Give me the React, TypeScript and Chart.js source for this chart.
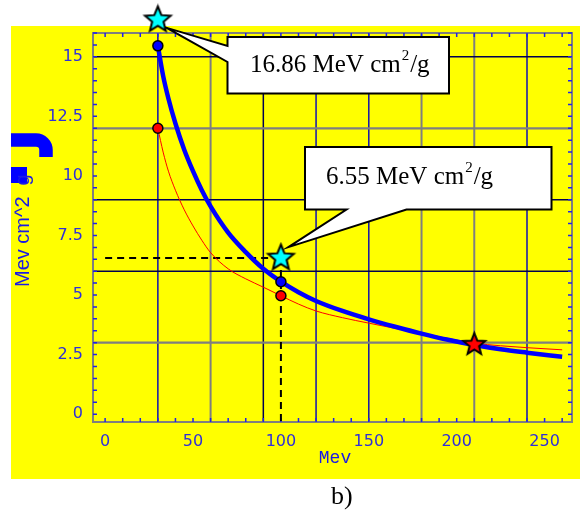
import React, { useEffect, useRef } from 'react';
import { Chart, registerables } from 'chart.js';

Chart.register(...registerables);

// ---------- data ----------
const X_RANGE = [-6.9, 265.6];
const Y_RANGE = [-0.33, 16.0];

const xTicks = [0, 50, 100, 150, 200, 250];
const xTickLabels = ['0', '50', '100', '150', '200', '250'];
const yTicks = [0, 2.5, 5, 7.5, 10, 12.5, 15];
const yTickLabels = ['0', '2.5', '5', '7.5', '10', '12.5', '15'];

const gridX = [30, 60, 90, 120, 150, 180, 210, 240];
const gridY = [3, 6, 9, 12, 15];

const blueX = [30, 33, 36, 40, 45, 50, 55, 60, 70, 80, 90, 100, 110, 120, 135, 150, 165, 180, 195, 210, 225, 240, 260];
const blueY = [15.46, 14.2, 13.25, 12.2, 11.1, 10.2, 9.4, 8.72, 7.62, 6.8, 6.1, 5.56, 5.12, 4.75, 4.33, 3.98, 3.67, 3.38, 3.12, 2.9, 2.72, 2.58, 2.41];

const redX = [30, 33, 36, 40, 45, 50, 55, 60, 70, 80, 90, 100, 110, 120, 135, 150, 165, 180, 195, 210, 225, 240, 260];
const redY = [12, 11.0, 10.2, 9.4, 8.58, 7.9, 7.3, 6.78, 6.1, 5.68, 5.33, 4.97, 4.62, 4.33, 4.05, 3.82, 3.6, 3.4, 3.18, 2.98, 2.87, 2.79, 2.7];

const dotX = [30, 100];
const blueDotY = [15.46, 5.56];
const redDotY = [12, 4.97];

const starX = [30, 100];
const starY = [16.55, 6.55];
const starValues = ['16.86', '6.55'];

const redStarX = [210];
const redStarY = [2.92];

const guideX = [0, 100];
const guideY = 6.55;
const guideBottom = -0.5;

const xTitle = 'Mev';
const yTitle = 'Mev cm^2  g';
const panelLabel = 'b)';

// ---------- helpers ----------
const pts = (xs: number[], ys: number[]) => xs.map((x, i) => ({ x, y: ys[i] }));

function makeStar(fill: string, R: number, r: number, lw: number) {
  const size = Math.ceil(2 * R + lw * 2 + 2);
  const c = document.createElement('canvas');
  c.width = size;
  c.height = size;
  const ctx = c.getContext('2d')!;
  const cx = size / 2, cy = size / 2;
  ctx.beginPath();
  for (let i = 0; i < 10; i++) {
    const rad = i % 2 === 0 ? R : r;
    const a = -Math.PI / 2 + (i * Math.PI) / 5;
    const px = cx + rad * Math.cos(a), py = cy + rad * Math.sin(a);
    if (i === 0) ctx.moveTo(px, py); else ctx.lineTo(px, py);
  }
  ctx.closePath();
  ctx.fillStyle = fill;
  ctx.fill();
  ctx.lineWidth = lw;
  ctx.strokeStyle = '#000';
  ctx.lineJoin = 'miter';
  ctx.stroke();
  return c;
}

const BLUE_TEXT = '#3030d8';
const TICK_COLOR = '#2020e8';
const GRID_GRAY = '#7f7f7f';
const GRID_NAVY = '#000050';
const GRID_BLUE = '#1010b0';
const gridXColors = [GRID_BLUE, GRID_GRAY, GRID_NAVY, GRID_BLUE, GRID_BLUE, GRID_GRAY, GRID_GRAY, GRID_BLUE];
const gridYColors = [GRID_GRAY, GRID_NAVY, GRID_NAVY, GRID_GRAY, GRID_NAVY];

function drawCalloutText(ctx: CanvasRenderingContext2D, value: string, tx: number, ty: number) {
  ctx.fillStyle = '#000';
  ctx.textBaseline = 'alphabetic';
  ctx.textAlign = 'left';
  ctx.font = '25px "Liberation Serif"';
  const main = `${value} MeV cm`;
  ctx.fillText(main, tx, ty);
  const w = ctx.measureText(main).width;
  ctx.font = '15px "Liberation Serif"';
  ctx.fillText('2', tx + w + 1, ty - 12);
  const w2 = ctx.measureText('2').width;
  ctx.font = '25px "Liberation Serif"';
  ctx.fillText('/g', tx + w + 2 + w2, ty);
}

const framePlugin = {
  id: 'framePlugin',
  beforeDraw(chart: any) {
    const { ctx, width, height } = chart;
    ctx.save();
    ctx.fillStyle = '#ffffff';
    ctx.fillRect(0, 0, width, height);
    ctx.fillStyle = '#ffff00';
    ctx.fillRect(11, 26, 569, 453);

    // odd glyph remnants of the y title
    ctx.save();
    ctx.beginPath();
    ctx.rect(11, 26, 569, 453);
    ctx.clip();
    ctx.strokeStyle = '#0000ff';
    ctx.lineWidth = 13.5;
    ctx.lineCap = 'butt';
    ctx.beginPath();
    ctx.moveTo(0, 140);
    ctx.lineTo(36, 140);
    ctx.arcTo(46, 140, 46, 157, 10);
    ctx.lineTo(46, 157);
    ctx.stroke();
    ctx.fillStyle = '#0000ff';
    ctx.fillRect(11, 167, 16, 16);
    ctx.restore();

    // y title
    ctx.save();
    ctx.translate(28.5, 287);
    ctx.rotate(-Math.PI / 2);
    ctx.fillStyle = '#1a1ae6';
    ctx.font = '20px "Liberation Sans"';
    ctx.textAlign = 'left';
    ctx.textBaseline = 'alphabetic';
    ctx.fillText(yTitle, 0, 0);
    ctx.restore();

    // x title
    ctx.fillStyle = '#1a1ae6';
    ctx.font = '18px "Liberation Mono"';
    ctx.textAlign = 'center';
    ctx.textBaseline = 'middle';
    ctx.fillText(xTitle, 335, 458);

    // panel label
    ctx.fillStyle = '#000';
    ctx.font = '26px "Liberation Serif"';
    ctx.textAlign = 'left';
    ctx.textBaseline = 'alphabetic';
    ctx.fillText(panelLabel, 331, 504);
    ctx.restore();
  },
  beforeDatasetsDraw(chart: any) {
    const { ctx, chartArea: a, scales } = chart;
    const xs = scales.x, ys = scales.y;
    ctx.save();
    // grid
    gridX.forEach((v, i) => {
      const px = xs.getPixelForValue(v);
      ctx.strokeStyle = gridXColors[i];
      ctx.lineWidth = gridXColors[i] === GRID_GRAY ? 2 : 1.5;
      ctx.beginPath();
      ctx.moveTo(px, a.top);
      ctx.lineTo(px, a.bottom);
      ctx.stroke();
    });
    gridY.forEach((v, i) => {
      const py = ys.getPixelForValue(v);
      ctx.strokeStyle = gridYColors[i];
      ctx.lineWidth = gridYColors[i] === GRID_GRAY ? 2.2 : 1.5;
      ctx.beginPath();
      ctx.moveTo(a.left, py);
      ctx.lineTo(a.right, py);
      ctx.stroke();
    });
    // frame
    ctx.strokeStyle = GRID_GRAY;
    ctx.lineWidth = 2;
    ctx.strokeRect(a.left, a.top, a.right - a.left, a.bottom - a.top);
    // minor ticks (inward, all four sides)
    ctx.strokeStyle = TICK_COLOR;
    ctx.lineWidth = 1.5;
    const tl = 4;
    for (let v = 0; v <= 260; v += 10) {
      const px = xs.getPixelForValue(v);
      ctx.beginPath();
      ctx.moveTo(px, a.bottom);
      ctx.lineTo(px, a.bottom - tl);
      ctx.moveTo(px, a.top);
      ctx.lineTo(px, a.top + tl);
      ctx.stroke();
    }
    for (let k = 0; k <= 32; k++) {
      const py = ys.getPixelForValue(k * 0.5);
      ctx.beginPath();
      ctx.moveTo(a.left, py);
      ctx.lineTo(a.left + tl, py);
      ctx.moveTo(a.right, py);
      ctx.lineTo(a.right - tl, py);
      ctx.stroke();
    }

    // callouts
    const s1x = xs.getPixelForValue(starX[0]);
    const s1y = ys.getPixelForValue(starY[0]);
    const s2x = xs.getPixelForValue(starX[1]);
    const s2y = ys.getPixelForValue(starY[1]);
    ctx.fillStyle = '#ffffff';
    ctx.strokeStyle = '#000000';
    ctx.lineWidth = 2;
    ctx.lineJoin = 'miter';
    // box 1
    const b1 = { l: 227.5, t: 37, r: 449, b: 93.5 };
    ctx.beginPath();
    ctx.moveTo(b1.l, b1.t);
    ctx.lineTo(b1.r, b1.t);
    ctx.lineTo(b1.r, b1.b);
    ctx.lineTo(b1.l, b1.b);
    ctx.lineTo(b1.l, 62);
    ctx.lineTo(s1x + 9, s1y + 8);
    ctx.lineTo(b1.l, 46);
    ctx.closePath();
    ctx.fill();
    ctx.stroke();
    drawCalloutText(ctx, starValues[0], 250, 72);
    // box 2
    const b2 = { l: 305, t: 147, r: 551.5, b: 209.5 };
    ctx.fillStyle = '#ffffff';
    ctx.beginPath();
    ctx.moveTo(b2.l, b2.t);
    ctx.lineTo(b2.r, b2.t);
    ctx.lineTo(b2.r, b2.b);
    ctx.lineTo(406.5, b2.b);
    ctx.lineTo(s2x + 7.5, s2y - 11);
    ctx.lineTo(346.5, b2.b);
    ctx.lineTo(b2.l, b2.b);
    ctx.closePath();
    ctx.fill();
    ctx.stroke();
    drawCalloutText(ctx, starValues[1], 326, 184);
    ctx.restore();
  },
};

export default function App() {
  const ref = useRef<HTMLCanvasElement>(null);
  useEffect(() => {
    if (!ref.current) return;
    const cyanStar = makeStar('#00ffff', 13.5, 6, 2);
    const redStar = makeStar('#ff0000', 11.5, 5, 2);
    const chart = new Chart(ref.current, {
      type: 'scatter',
      data: {
        datasets: [
          {
            label: 'stars',
            data: pts(starX, starY),
            showLine: false,
            pointStyle: cyanStar as any,
            pointRadius: 14,
            clip: false as any,
            order: 0,
          },
          {
            label: 'red star',
            data: pts(redStarX, redStarY),
            showLine: false,
            pointStyle: redStar as any,
            pointRadius: 12,
            clip: false as any,
            order: 0,
          },
          {
            label: 'blue dots',
            data: pts(dotX, blueDotY),
            showLine: false,
            pointRadius: 5,
            backgroundColor: '#0000ff',
            borderColor: '#000000',
            borderWidth: 1.5,
            order: 1,
          },
          {
            label: 'red dots',
            data: pts(dotX, redDotY),
            showLine: false,
            pointRadius: 5,
            backgroundColor: '#ff0000',
            borderColor: '#000000',
            borderWidth: 1.5,
            order: 1,
          },
          {
            label: 'blue curve',
            data: pts(blueX, blueY),
            showLine: true,
            borderColor: '#0000ff',
            borderWidth: 4.5,
            pointRadius: 0,
            cubicInterpolationMode: 'monotone',
            order: 2,
          },
          {
            label: 'red curve',
            data: pts(redX, redY),
            showLine: true,
            borderColor: '#ff0000',
            borderWidth: 1,
            pointRadius: 0,
            cubicInterpolationMode: 'monotone',
            order: 3,
          },
          {
            label: 'guide h',
            data: guideX.map((x) => ({ x, y: guideY })),
            showLine: true,
            borderColor: '#000000',
            borderWidth: 2,
            borderDash: [7, 5],
            pointRadius: 0,
            order: 4,
          },
          {
            label: 'guide v',
            data: [{ x: guideX[1], y: guideY }, { x: guideX[1], y: guideBottom }],
            showLine: true,
            borderColor: '#000000',
            borderWidth: 2,
            borderDash: [7, 5],
            pointRadius: 0,
            clip: false as any,
            order: 4,
          },
        ],
      },
      options: {
        animation: false,
        responsive: false,
        events: [],
        layout: { padding: { left: 0, top: 33, right: 9, bottom: 0 } },
        plugins: { legend: { display: false }, tooltip: { enabled: false } },
        scales: {
          x: {
            type: 'linear',
            min: X_RANGE[0],
            max: X_RANGE[1],
            grid: { display: false, drawTicks: false },
            border: { display: false },
            ticks: {
              color: BLUE_TEXT,
              font: { family: '"DejaVu Sans"', size: 16 },
              padding: 10,
              autoSkip: false,
              maxRotation: 0,
              callback: (_v: any, i: number) => xTickLabels[i],
            },
            afterBuildTicks: (s: any) => {
              s.ticks = xTicks.map((v) => ({ value: v }));
            },
            afterFit: (s: any) => {
              s.height = 88;
            },
          },
          y: {
            type: 'linear',
            min: Y_RANGE[0],
            max: Y_RANGE[1],
            grid: { display: false, drawTicks: false },
            border: { display: false },
            ticks: {
              color: BLUE_TEXT,
              font: { family: '"DejaVu Sans"', size: 16 },
              padding: 10,
              autoSkip: false,
              callback: (_v: any, i: number) => yTickLabels[i],
            },
            afterBuildTicks: (s: any) => {
              s.ticks = yTicks.map((v) => ({ value: v }));
            },
            afterFit: (s: any) => {
              s.width = 93;
            },
          },
        },
      } as any,
      plugins: [framePlugin],
    });
    return () => chart.destroy();
  }, []);

  return (
    <div style={{ position: 'absolute', left: 0, top: 0, width: 587, height: 510 }}>
      <canvas ref={ref} width={587} height={510} style={{ display: 'block' }} />
    </div>
  );
}
